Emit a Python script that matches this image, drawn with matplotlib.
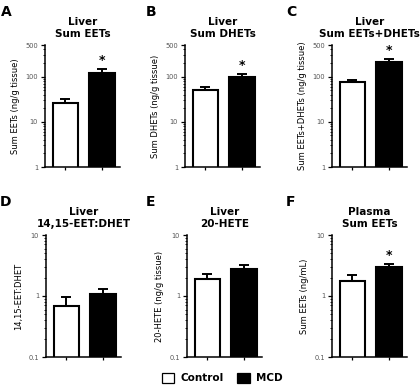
import matplotlib
matplotlib.use("Agg")
import matplotlib.pyplot as plt
from matplotlib.patches import Patch
from matplotlib.ticker import FixedLocator, LogLocator, NullFormatter

letters = ["A", "B", "C", "D", "E", "F"]
titles = ["Liver\nSum EETs", "Liver\nSum DHETs", "Liver\nSum EETs+DHETs",
          "Liver\n14,15-EET:DHET", "Liver\n20-HETE", "Plasma\nSum EETs"]
ylabels = ["Sum EETs (ng/g tissue)", "Sum DHETs (ng/g tissue)",
           "Sum EETs+DHETs (ng/g tissue)", "14,15-EET:DHET",
           "20-HETE (ng/g tissue)", "Sum EETs (ng/mL)"]
groups = ["Control", "MCD"]
control = [26, 51, 77, 0.69, 1.9, 1.76]
control_sem = [6, 7, 8, 0.27, 0.4, 0.44]
mcd = [123, 96, 215, 1.07, 2.8, 3.0]
mcd_sem = [27, 21, 35, 0.23, 0.4, 0.35]
significant = [True, True, True, False, False, True]
top_ticks = [1, 10, 100, 500]
top_ticklabels = ["1", "10", "100", "500"]
bottom_ticks = [0.1, 1, 10]
bottom_ticklabels = ["0.1", "1", "10"]

W, H = 420, 388
fig = plt.figure(figsize=(W / 100, H / 100), dpi=100)

lefts = [45, 185, 332, 46, 187, 332]
tops = [45, 45, 45, 235, 235, 235]
aw, ah = 75, 122
letter_pos = [(1, 12), (146, 12), (286, 12), (0, 202), (146, 202), (286, 202)]

for i in range(6):
    l, t = lefts[i], tops[i]
    ax = fig.add_axes([l / W, (H - t - ah) / H, aw / W, ah / H])
    ax.set_yscale("log")
    vals = [control[i], mcd[i]]
    sems = [control_sem[i], mcd_sem[i]]
    for j, (v, s, fc) in enumerate(zip(vals, sems, ["white", "black"])):
        ax.bar(j, v, width=0.7, color=fc, edgecolor="black", linewidth=1.5, zorder=2)
        ax.errorbar(j, v, yerr=[[0], [s]], fmt="none", ecolor="black",
                    elinewidth=1.4, capsize=3.5, capthick=1.4, zorder=1)
    if i < 3:
        ax.set_ylim(1, 500)
        ticks, labels = top_ticks, top_ticklabels
    else:
        ax.set_ylim(0.1, 10)
        ticks, labels = bottom_ticks, bottom_ticklabels
    ax.yaxis.set_major_locator(FixedLocator(ticks))
    ax.set_yticklabels(labels)
    ax.yaxis.set_minor_locator(LogLocator(base=10, subs=range(2, 10)))
    ax.yaxis.set_minor_formatter(NullFormatter())
    ax.set_xlim(-0.56, 1.49)
    ax.set_xticks([0, 1])
    ax.set_xticklabels(["", ""])
    if significant[i]:
        ax.text(1, (mcd[i] + mcd_sem[i]) * 1.08, "*", ha="center", va="bottom",
                fontsize=9, fontweight="bold")
    for side in ["top", "right"]:
        ax.spines[side].set_visible(False)
    for side in ["left", "bottom"]:
        ax.spines[side].set_linewidth(1.1)
    ax.tick_params(axis="y", which="major", length=3, width=0.9, labelsize=4.8,
                   labelcolor="#555555", pad=2)
    ax.tick_params(axis="y", which="minor", length=1.8, width=0.6)
    ax.tick_params(axis="x", length=2.5, width=0.9, direction="out")
    ax.set_ylabel(ylabels[i], fontsize=6, labelpad=4)
    ax.set_title(titles[i], fontsize=7.5, fontweight="bold", pad=6, linespacing=1.15)
    lx, ly = letter_pos[i]
    fig.text(lx / W, 1 - ly / H, letters[i], fontsize=10, fontweight="bold",
             ha="left", va="center")

handles = [Patch(facecolor="white", edgecolor="black", linewidth=0.9),
           Patch(facecolor="black", edgecolor="black", linewidth=0.9)]
fig.legend(handles, groups, loc="center", bbox_to_anchor=(222 / W, 1 - 378 / H),
           ncol=2, frameon=False, handlelength=1.2, handleheight=1.2,
           columnspacing=1.3, handletextpad=0.6,
           prop={"size": 7.5, "weight": "bold"})

fig.savefig("out.png", dpi=100)
